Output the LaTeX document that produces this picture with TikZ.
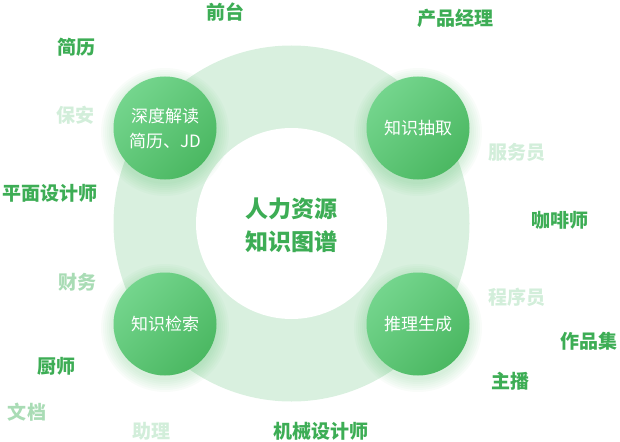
\documentclass[tikz,border=0pt]{standalone}
\usepackage{fontspec}
\setmainfont{Noto Sans CJK SC}
\definecolor{ringgreen}{HTML}{D9F0DF}
\definecolor{darkgreen}{HTML}{3DAD55}
\definecolor{midgreen}{HTML}{A9DCB5}
\definecolor{palegreen}{HTML}{D2EEDA}
\definecolor{ballhi}{HTML}{74D58D}
\definecolor{balllo}{HTML}{4BB862}

\begin{document}
\begin{tikzpicture}[x=1pt, y=-1pt,
        ball/.style={circle, minimum size=103pt, inner sep=0pt, top color=ballhi, bottom color=balllo,
            shading angle=45, text=white, align=center, font=\fontsize{17}{25}\selectfont},
        job/.style={inner sep=0pt, text=darkgreen, font=\fontsize{19}{19}\bfseries\selectfont},
        midjob/.style={job, text=midgreen},
        palejob/.style={job, text=palegreen}]
        \useasboundingbox (0, 0) rectangle (620, 441);

        % ring
        \fill[ringgreen] (291.5, 223.5) circle (178);
        \fill[white] (291.5, 223.5) circle (95.5);
        \node[text=darkgreen, align=center, font=\fontsize{23}{33}\bfseries\selectfont] (core) at (291.5, 225) {人力资源\\知识图谱};

        % soft glow under the balls
        \foreach \p in {(165, 128), (418, 128), (165, 324), (418, 324)}
            \foreach \r in {52, 54, ..., 64}
                \fill[balllo, opacity=0.035] \p ++(0, 4) circle (\r);

        \node[ball] (parse) at (165, 128) {深度解读\\简历、JD};
        \node[ball] (extract) at (418, 128) {知识抽取};
        \node[ball] (search) at (165, 324) {知识检索};
        \node[ball] (reason) at (418, 324) {推理生成};

        % job titles
        \node[job] (frontdesk) at (225, 12) {前台};
        \node[job] (pm) at (455, 18) {产品经理};
        \node[job] (resume) at (76, 47) {简历};
        \node[palejob] (guard) at (75, 115) {保安};
        \node[job] (designer) at (50, 193) {平面设计师};
        \node[midjob] (finance) at (77, 282) {财务};
        \node[job] (chef) at (56, 366) {厨师};
        \node[midjob] (docs) at (27, 412) {文档};
        \node[palejob] (assistant) at (151, 431) {助理};
        \node[job] (mecheng) at (321, 431) {机械设计师};
        \node[palejob] (waiter) at (517, 152) {服务员};
        \node[job] (barista) at (560, 220) {咖啡师};
        \node[palejob] (coder) at (517, 297) {程序员};
        \node[job] (portfolio) at (589, 341) {作品集};
        \node[job] (host) at (510, 381) {主播};
    \end{tikzpicture}
\end{document}
